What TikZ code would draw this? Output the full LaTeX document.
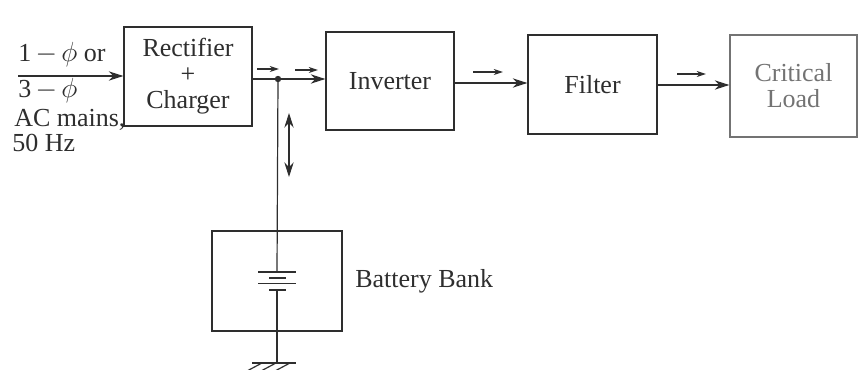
\documentclass[tikz,border=0pt]{standalone}
\usepackage{fontspec}
\setmainfont{Liberation Serif}
\usetikzlibrary{arrows.meta,fit}
\definecolor{ink}{gray}{0.18}
\definecolor{pale}{gray}{0.45}
\tikzset{
  box/.style={draw=ink, line width=0.9pt, inner sep=0pt},
  txt/.style={align=center, text=ink, inner sep=0pt, font=\fontsize{19.5}{19.5}\selectfont},
  wire/.style={draw=ink, line width=0.9pt},
  bigarrow/.style={wire, -{Stealth[length=11pt,width=7pt]}},
  dirarrow/.style={draw=ink, line width=0.8pt, -{Stealth[length=7pt,width=4.5pt]}},
  lbl/.style={anchor=base west, inner sep=0pt, text=ink, font=\fontsize{19.5}{19.5}\selectfont}
}
\begin{document}
\begin{tikzpicture}[x=0.75pt,y=-0.75pt]
\useasboundingbox (0,0) rectangle (861,370);
% blocks
\node[box, fit={(124,27) (252,126)}] (rect) {};
\node[txt] (rectt) at (rect.center) {Rectifier\\+\\Charger};
\node[box, fit={(326,32) (454,130)}] (inv) {};
\node[txt] (invt) at (inv.center) {Inverter};
\node[box, fit={(528,35) (657,134)}] (filt) {};
\node[txt] (filtt) at (filt.center) {Filter};
\node[box, draw=pale, fit={(730,35) (857,137)}] (load) {};
\node[txt, text=pale] (loadt) at (load.center) {Critical\\Load};
\node[box, fit={(212,231) (342,331)}] (bat) {};
% input labels
\node[lbl] (l1) at (18,62) {1\thinspace$-$\thinspace$\phi$ or};
\node[lbl] (l2) at (18,98) {3\thinspace$-$\thinspace$\phi$};
\node[lbl] (l3) at (14,127) {AC mains,};
\node[lbl] (l4) at (12,152) {50 Hz};
\node[lbl, anchor=west] (bb) at (355,281) {Battery Bank};
% input arrow
\coordinate (in) at (18,76);
\draw[bigarrow] (in) -- (rect.west |- in);
% junction and main path
\coordinate (j) at (278,79);
\draw[bigarrow] (rect.east |- j) -- (inv.west |- j);
\fill[ink] (j) circle (3.2);
\coordinate (a2) at (454,83);
\draw[bigarrow] (a2) -- (filt.west |- a2);
\coordinate (a3) at (657,85);
\draw[bigarrow] (a3) -- (load.west |- a3);
% small direction arrows
\coordinate (s1a) at (257,69); \coordinate (s1b) at (279,69);
\draw[dirarrow] (s1a) -- (s1b);
\coordinate (s2a) at (295,70); \coordinate (s2b) at (318,70);
\draw[dirarrow] (s2a) -- (s2b);
\coordinate (s3a) at (473,72); \coordinate (s3b) at (503,72);
\draw[dirarrow] (s3a) -- (s3b);
\coordinate (s4a) at (677,74); \coordinate (s4b) at (706,74);
\draw[dirarrow] (s4a) -- (s4b);
% bidirectional arrow
\coordinate (d1) at (289,113); \coordinate (d2) at (289,177);
\draw[wire, line width=0.8pt, {Stealth[length=11pt,width=7pt]}-{Stealth[length=11pt,width=7pt]}] (d1) -- (d2);
% battery
\coordinate (p1) at (277,272);
\coordinate (p4) at (277,290);
\draw[wire] (j) -- (p1);
\draw[wire] (258,272) -- (296,272);
\draw[wire] (269,278) -- (286,278);
\draw[wire] (258,283.5) -- (296,283.5);
\draw[wire] (269,290) -- (286,290);
\coordinate (g) at (277,363);
\draw[wire] (p4) -- (g);
% ground
\draw[wire] (252,363) -- (296,363);
\draw[wire] (262,363) -- (247,371);
\draw[wire] (276,363) -- (261,371);
\draw[wire] (290,363) -- (275,371);
\end{tikzpicture}
\end{document}
